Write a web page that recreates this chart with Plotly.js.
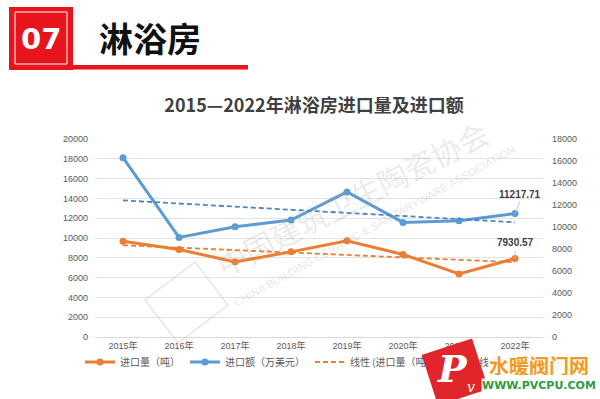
<!DOCTYPE html>
<html>
<head>
<meta charset="utf-8">
<script src="https://cdn.plot.ly/plotly-3.0.1.min.js"></script>
<style>
  html, body { margin: 0; padding: 0; background: #ffffff; }
  #chart { width: 600px; height: 399px; }
</style>
</head>
<body>
<div id="chart"></div>
<script>
// ---- data ----
const years = ['2015年', '2016年', '2017年', '2018年', '2019年', '2020年', '2021年', '2022年'];
const importVolume = [9680, 8840, 7590, 8600, 9710, 8340, 6370, 7930.57];      // 进口量（吨）, left axis
const importValue = [16300, 9050, 10020, 10630, 13180, 10420, 10560, 11217.71]; // 进口额（万美元）, right axis
const trendYears = ['2015年', '2022年'];
const volumeTrend = [9270, 7550];   // 线性 (进口量（吨）)
const valueTrend = [12420, 10430];  // 线性 (进口额（万美元）)
const seriesNames = ['进口量（吨）', '进口额（万美元）', '线性 (进口量（吨）)', '线性 (进口额（万美元）)'];
const leftTicks = [0, 2000, 4000, 6000, 8000, 10000, 12000, 14000, 16000, 18000, 20000];
const rightTicks = [0, 2000, 4000, 6000, 8000, 10000, 12000, 14000, 16000, 18000];

// ---- layout helpers (pixel -> paper) ----
const L = 95, R = 543, T = 139, B = 337;
const px = x => (x - L) / (R - L);
const py = y => (B - y) / (B - T);

const ORANGE = '#ED7D31';
const BLUE = '#5B9BD5';
const FONT = 'Liberation Sans, Noto Sans CJK SC, sans-serif';
const CJK = 'Noto Sans CJK SC, sans-serif';

const traces = [
  {
    x: years, y: importVolume, name: seriesNames[0], type: 'scatter', mode: 'lines+markers',
    line: { color: ORANGE, width: 3 }, marker: { color: ORANGE, size: 7 }, yaxis: 'y'
  },
  {
    x: years, y: importValue, name: seriesNames[1], type: 'scatter', mode: 'lines+markers',
    line: { color: BLUE, width: 3 }, marker: { color: BLUE, size: 7 }, yaxis: 'y2'
  },
  {
    x: trendYears, y: volumeTrend, name: seriesNames[2], type: 'scatter', mode: 'lines',
    line: { color: ORANGE, width: 1.8, dash: '5px,3px' }, yaxis: 'y'
  },
  {
    x: trendYears, y: valueTrend, name: seriesNames[3], type: 'scatter', mode: 'lines',
    line: { color: '#4F86C0', width: 1.8, dash: '5px,3px' }, yaxis: 'y2'
  }
];

const last = years.length - 1;
const paperNote = (x, y, text, font, extra) => Object.assign({
  x: px(x), y: py(y), xref: 'paper', yref: 'paper', text: text, showarrow: false,
  xanchor: 'center', yanchor: 'middle', font: font
}, extra || {});

const annotations = [
  // data labels
  {
    x: years[last], y: importValue[last], xref: 'x', yref: 'y2',
    text: importValue[last].toFixed(2), showarrow: true, arrowhead: 0, arrowwidth: 0.8,
    arrowcolor: '#bfbfbf', ax: 5, ay: -12, yanchor: 'bottom',
    font: { family: FONT, size: 10, color: '#404040', weight: 'bold' }
  },
  {
    x: years[last], y: importVolume[last], xref: 'x', yref: 'y',
    text: importVolume[last].toFixed(2), showarrow: true, arrowhead: 0, arrowwidth: 0.8,
    arrowcolor: '#bfbfbf', ax: 0, ay: -8, yanchor: 'bottom',
    font: { family: FONT, size: 10, color: '#404040', weight: 'bold' }
  },
  // header
  paperNote(41, 39, '07', { family: 'DejaVu Sans, sans-serif', size: 29, color: '#ffffff', weight: 'bold' }),
  paperNote(150, 38, '淋浴房', { family: CJK, size: 34, color: '#111111', weight: 'bold' }),
  // watermark
  paperNote(352, 198, '中国建筑卫生陶瓷协会', { family: CJK, size: 30, color: 'rgba(160,160,160,0.22)' }, { textangle: -27 }),
  paperNote(374, 226, 'CHINA BUILDING CERAMIC &amp; SANITARYWARE ASSOCIATION',
    { family: FONT, size: 11, color: 'rgba(160,160,160,0.28)' }, { textangle: -29 }),
  // bottom-right site logo
  paperNote(455, 372, ' ', { family: FONT, size: 10, color: '#E0262B' },
    { bgcolor: '#E0262B', width: 50, height: 50, textangle: -18 }),
  paperNote(452, 368, '<i>P</i>', { family: 'DejaVu Serif, serif', size: 38, color: '#ffffff', weight: 'bold' }),
  paperNote(471, 387, '<i>v</i>', { family: 'DejaVu Serif, serif', size: 14, color: '#ffffff' }),
  paperNote(539, 365, '水暖阀门网', { family: CJK, size: 20, color: '#F39A1E', weight: 'bold' },
    { bgcolor: 'rgba(255,255,255,0.92)', borderpad: 0, height: 20 }),
  paperNote(539, 385, 'WWW.PVCPU.COM', { family: 'DejaVu Sans, sans-serif', size: 11, color: '#2E9B3F', weight: 'bold' },
    { bgcolor: 'rgba(255,255,255,0.92)', borderpad: 0, height: 12 })
];

const shapes = [
  // header red box and inner frame
  { type: 'rect', xref: 'paper', yref: 'paper', x0: px(9), x1: px(73), y0: py(70), y1: py(7),
    fillcolor: '#E8151C', line: { width: 0 }, layer: 'above' },
  { type: 'rect', xref: 'paper', yref: 'paper', x0: px(15), x1: px(67), y0: py(64), y1: py(12),
    fillcolor: 'rgba(0,0,0,0)', line: { width: 1, color: '#ffffff' }, layer: 'above' },
  { type: 'rect', xref: 'paper', yref: 'paper', x0: px(73), x1: px(248), y0: py(69.5), y1: py(65),
    fillcolor: '#E8151C', line: { width: 0 }, layer: 'above' },
  // watermark emblem frame
  { type: 'path', xref: 'paper', yref: 'paper', layer: 'above',
    path: `M ${px(145)} ${py(300)} L ${px(195)} ${py(262)} L ${px(228)} ${py(305)} L ${px(178)} ${py(343)} Z`,
    fillcolor: 'rgba(0,0,0,0)', line: { width: 1.5, color: 'rgba(170,170,170,0.3)' } }
];

const layout = {
  width: 600, height: 399,
  paper_bgcolor: '#ffffff', plot_bgcolor: '#ffffff',
  margin: { l: L, r: 600 - R, t: T, b: 399 - B, pad: 0 },
  title: {
    text: '2015—2022年淋浴房进口量及进口额',
    x: px(314), xref: 'paper', xanchor: 'center',
    y: 1 - 106 / 399, yref: 'container', yanchor: 'middle',
    font: { family: CJK, size: 18, color: '#404040', weight: 'bold' }
  },
  showlegend: true,
  legend: {
    orientation: 'h', x: px(80), xanchor: 'left', y: py(362), yanchor: 'middle',
    font: { family: CJK, size: 10, color: '#595959' }, bgcolor: 'rgba(0,0,0,0)',
    itemwidth: 30, tracegroupgap: 0
  },
  xaxis: {
    type: 'category', range: [-0.5, years.length - 0.5],
    showgrid: false, zeroline: false, showline: true, linecolor: '#d9d9d9', linewidth: 1,
    ticks: '', tickfont: { family: FONT, size: 9, color: '#595959' }, fixedrange: true
  },
  yaxis: {
    range: [0, 20000], tickvals: leftTicks, ticktext: leftTicks.map(String),
    showgrid: true, gridcolor: '#e3e3e3', gridwidth: 1, zeroline: false, showline: false,
    ticks: '', ticklabelstandoff: 6,
    tickfont: { family: FONT, size: 9, color: '#595959' }
  },
  yaxis2: {
    overlaying: 'y', side: 'right', range: [0, 18000], tickvals: rightTicks, ticktext: rightTicks.map(String),
    showgrid: false, zeroline: false, showline: false, ticks: '', ticklabelstandoff: 8,
    tickfont: { family: FONT, size: 9, color: '#595959' }
  },
  annotations: annotations,
  shapes: shapes
};

Plotly.newPlot('chart', traces, layout, { staticPlot: true, displayModeBar: false });
</script>
</body>
</html>
